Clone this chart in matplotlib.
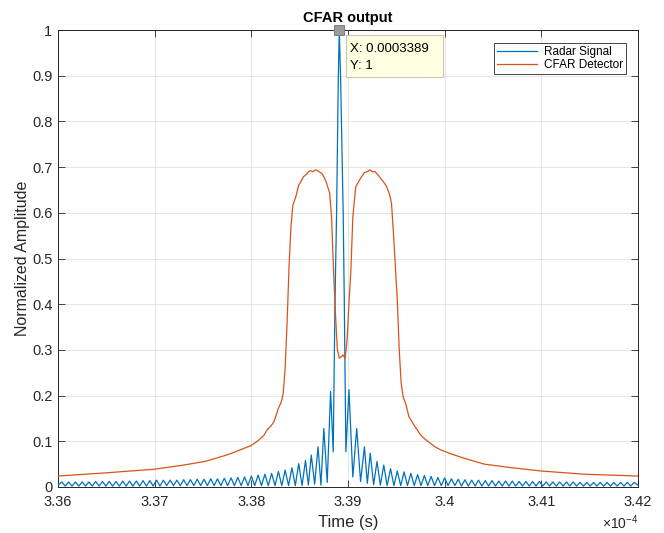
import numpy as np
import matplotlib
matplotlib.use("Agg")
import matplotlib.pyplot as plt
from matplotlib.patches import Rectangle

plt.rcParams['font.family'] = ['Liberation Sans', 'DejaVu Sans']
plt.rcParams['mathtext.fontset'] = 'custom'
plt.rcParams['mathtext.rm'] = 'Liberation Sans'
plt.rcParams['mathtext.it'] = 'Liberation Sans:italic'

# ---------------- data (time in units of 1e-4 s) ----------------
# Radar signal: left sidelobes (alternating peak / null)
left_t = [3.3600, 3.3604, 3.36075, 3.3611, 3.36145, 3.3618, 3.36215, 3.3625, 3.36285,
          3.3632, 3.36355, 3.3639, 3.36425, 3.3646, 3.36495, 3.3653, 3.36565, 3.3660,
          3.36635, 3.3667, 3.36705, 3.3674, 3.36775, 3.3681, 3.36845, 3.3688, 3.36915,
          3.3695, 3.36985, 3.3702, 3.37055, 3.3709, 3.37125, 3.3716, 3.37195, 3.3723,
          3.37265, 3.3730, 3.37335, 3.3737, 3.37405, 3.3744, 3.37475, 3.3751, 3.37545,
          3.3758, 3.37615, 3.3765, 3.37685, 3.3772, 3.37755, 3.3779, 3.37825, 3.3786,
          3.37895, 3.3793, 3.37965, 3.3800, 3.38035, 3.3807, 3.38105, 3.3814, 3.38175,
          3.3821, 3.38245, 3.3828, 3.38315, 3.3835, 3.38385, 3.3842, 3.38455, 3.3849,
          3.38525, 3.3856, 3.3859, 3.3862, 3.38655, 3.3869, 3.3872, 3.3875, 3.38785,
          3.3882]
left_v = [0.004, 0.011, 0.002, 0.011, 0.002, 0.011, 0.002, 0.011, 0.002,
          0.011, 0.002, 0.012, 0.002, 0.012, 0.002, 0.012, 0.002, 0.012,
          0.002, 0.013, 0.002, 0.013, 0.002, 0.013, 0.002, 0.014, 0.002,
          0.014, 0.002, 0.015, 0.002, 0.015, 0.003, 0.015, 0.003, 0.015,
          0.003, 0.016, 0.003, 0.016, 0.003, 0.017, 0.003, 0.017, 0.003,
          0.018, 0.003, 0.018, 0.003, 0.019, 0.003, 0.020, 0.003, 0.021,
          0.003, 0.022, 0.003, 0.024, 0.003, 0.026, 0.003, 0.028, 0.003,
          0.030, 0.003, 0.034, 0.003, 0.037, 0.003, 0.042, 0.003, 0.051,
          0.003, 0.058, 0.004, 0.070, 0.006, 0.088, 0.004, 0.128, 0.010,
          0.209]
# Radar signal: main lobe
main_t = [3.38847, 3.38865, 3.38882, 3.38900, 3.3891, 3.38925, 3.38950, 3.38962, 3.38978]
main_v = [0.077, 0.40, 0.60, 0.90, 1.0, 0.88, 0.60, 0.40, 0.077]
# Radar signal: right sidelobes (alternating peak / null)
right_t = [3.3901, 3.3905, 3.3909, 3.3913, 3.3917, 3.3920, 3.3923, 3.39265, 3.3930,
           3.39335, 3.3937, 3.39405, 3.3944, 3.39475, 3.3951, 3.39545, 3.3958, 3.39615,
           3.3965, 3.39685, 3.3972, 3.39755, 3.3979, 3.39825, 3.3986, 3.39895, 3.3993,
           3.39965, 3.4000, 3.40035, 3.4007, 3.40105, 3.4014, 3.40175, 3.4021, 3.40245,
           3.4028, 3.40315, 3.4035, 3.40385, 3.4042, 3.40455, 3.4049, 3.40525, 3.4056,
           3.40595, 3.4063, 3.40665, 3.4070, 3.40735, 3.4077, 3.40805, 3.4084, 3.40875,
           3.4091, 3.40945, 3.4098, 3.41015, 3.4105, 3.41085, 3.4112, 3.41155, 3.4119,
           3.41225, 3.4126, 3.41295, 3.4133, 3.41365, 3.4140, 3.41435, 3.4147, 3.41505,
           3.4154, 3.41575, 3.4161, 3.41645, 3.4168, 3.41715, 3.4175, 3.41785, 3.4182,
           3.41855, 3.4189, 3.41925, 3.4196, 3.4200]
right_v = [0.213, 0.022, 0.128, 0.012, 0.088, 0.008, 0.074, 0.005, 0.056,
           0.004, 0.048, 0.003, 0.040, 0.003, 0.035, 0.003, 0.033, 0.003,
           0.030, 0.003, 0.027, 0.003, 0.025, 0.003, 0.023, 0.003, 0.021,
           0.003, 0.020, 0.003, 0.018, 0.003, 0.017, 0.002, 0.016, 0.002,
           0.015, 0.002, 0.015, 0.002, 0.014, 0.002, 0.014, 0.002, 0.013,
           0.002, 0.013, 0.002, 0.013, 0.002, 0.012, 0.002, 0.012, 0.002,
           0.012, 0.002, 0.012, 0.002, 0.011, 0.002, 0.011, 0.002, 0.011,
           0.002, 0.011, 0.002, 0.011, 0.002, 0.010, 0.002, 0.010, 0.002,
           0.010, 0.002, 0.010, 0.002, 0.010, 0.002, 0.010, 0.002, 0.010,
           0.002, 0.010, 0.002, 0.010, 0.004]

# CFAR detector threshold
cfar_t = [3.3600, 3.3650, 3.3700, 3.3730, 3.3752, 3.3765, 3.3776, 3.3787, 3.3800, 3.3806,
          3.3810, 3.3813, 3.3816, 3.3820, 3.3823, 3.3825, 3.3828, 3.3831, 3.3833, 3.3835,
          3.3837, 3.3839, 3.3841, 3.3843, 3.3846, 3.3849, 3.3851, 3.3854, 3.3857, 3.3859,
          3.3861, 3.3864, 3.3866, 3.3868, 3.3870, 3.3873, 3.3876, 3.3878, 3.3881, 3.3883,
          3.3885, 3.3887, 3.3889, 3.3891, 3.3893, 3.3895, 3.3897, 3.3899, 3.3901, 3.3903,
          3.3905, 3.3908, 3.3912, 3.3915, 3.3917, 3.3920, 3.3923, 3.3925, 3.3928, 3.3931,
          3.3935, 3.3938, 3.3940, 3.3943, 3.3945, 3.3947, 3.3949, 3.3951, 3.3953, 3.3955,
          3.3957, 3.3960, 3.3963, 3.3966, 3.3968, 3.3972, 3.3975, 3.3980, 3.3985, 3.3990,
          3.3996, 3.4006, 3.4020, 3.4041, 3.4070, 3.4100, 3.4144, 3.4200]
cfar_v = [0.024, 0.031, 0.039, 0.048, 0.056, 0.064, 0.071, 0.080, 0.091, 0.100,
          0.107, 0.113, 0.124, 0.133, 0.141, 0.153, 0.172, 0.186, 0.205, 0.262,
          0.360, 0.482, 0.570, 0.617, 0.635, 0.661, 0.667, 0.679, 0.684, 0.690,
          0.692, 0.690, 0.694, 0.693, 0.690, 0.686, 0.675, 0.664, 0.643, 0.591,
          0.475, 0.380, 0.300, 0.282, 0.285, 0.289, 0.281, 0.320, 0.402, 0.475,
          0.591, 0.657, 0.672, 0.682, 0.688, 0.690, 0.694, 0.690, 0.690, 0.683,
          0.672, 0.664, 0.657, 0.640, 0.621, 0.555, 0.482, 0.409, 0.300, 0.227,
          0.198, 0.180, 0.154, 0.144, 0.136, 0.124, 0.114, 0.104, 0.096, 0.088,
          0.081, 0.073, 0.063, 0.050, 0.042, 0.035, 0.028, 0.024]

x_ticks = [3.36, 3.37, 3.38, 3.39, 3.40, 3.41, 3.42]
x_tick_labels = ['3.36', '3.37', '3.38', '3.39', '3.4', '3.41', '3.42']
y_ticks = [0, 0.1, 0.2, 0.3, 0.4, 0.5, 0.6, 0.7, 0.8, 0.9, 1.0]
y_tick_labels = ['0', '0.1', '0.2', '0.3', '0.4', '0.5', '0.6', '0.7', '0.8', '0.9', '1']
datatip_text = 'X: 0.0003389\nY: 1'

# ---------------- plot ----------------
radar_t = np.array(left_t + main_t + right_t)
radar_v = np.array(left_v + main_v + right_v)

W, H = 664, 533
fig = plt.figure(figsize=(W / 100, H / 100), dpi=100)
ax = fig.add_axes([58 / W, 1 - 487 / H, 580 / W, 457 / H])

dark = '#262626'
ax.plot(radar_t, radar_v, color='#0072BD', lw=0.9, label='Radar Signal', zorder=3)
ax.plot(cfar_t, cfar_v, color='#D95319', lw=0.9, label='CFAR Detector', zorder=3)

ax.set_xlim(3.36, 3.42)
ax.set_ylim(0, 1)
ax.set_xticks(x_ticks)
ax.set_xticklabels(x_tick_labels)
ax.set_yticks(y_ticks)
ax.set_yticklabels(y_tick_labels)
ax.tick_params(direction='in', top=True, right=True, length=5, width=0.6,
               color=dark, labelcolor=dark, labelsize=10.5)
ax.tick_params(axis='x', pad=6)
ax.tick_params(axis='y', pad=4)
ax.grid(True, color='#dfdfdf', lw=0.6)
ax.set_axisbelow(True)
for s in ax.spines.values():
    s.set_color(dark)
    s.set_linewidth(0.7)

ax.set_title('CFAR output', fontsize=10.5, fontweight='bold', color='black', pad=6)
ax.set_xlabel('Time (s)', fontsize=12, color=dark, labelpad=4)
ax.set_ylabel('Normalized Amplitude', fontsize=11.5, color=dark, labelpad=1.5)
ax.text(1.0, -0.079, r'$\times$10$^{-4}$', transform=ax.transAxes, ha='right',
        va='center', fontsize=10, color=dark)

leg = ax.legend(loc='upper right', bbox_to_anchor=(568 / 580, 444 / 457), borderaxespad=0,
                fancybox=False, edgecolor=dark, framealpha=1, fontsize=8.5,
                handlelength=3.4, handletextpad=0.55, borderpad=0.25, labelspacing=0.1)
leg.get_frame().set_linewidth(0.6)

# data tip at the peak
ipk = int(np.argmax(radar_v))
pk_t, pk_v = radar_t[ipk], radar_v[ipk]
ax.plot([pk_t], [pk_v], marker='s', ms=7, mfc='#9b9b9b', mec='#808080', mew=0.8,
        clip_on=False, zorder=6, linestyle='none')
px, py = ax.transData.transform((pk_t, pk_v))
bx, by, bw, bh = px + 6.5, py - 47, 97, 42
fig.patches.append(Rectangle((bx / W, by / H), bw / W, bh / H, transform=fig.transFigure,
                             fc='#ffffe1', ec='#c8c8b4', lw=0.8, zorder=5))
lines = datatip_text.split('\n')
fig.text((px + 11.2) / W, (py - 19) / H, lines[0], fontsize=9.5, va='center', ha='left',
         color='black', zorder=6)
fig.text((px + 11.2) / W, (py - 36) / H, lines[1], fontsize=9.5, va='center', ha='left',
         color='black', zorder=6)

fig.savefig('out.png', dpi=100)
